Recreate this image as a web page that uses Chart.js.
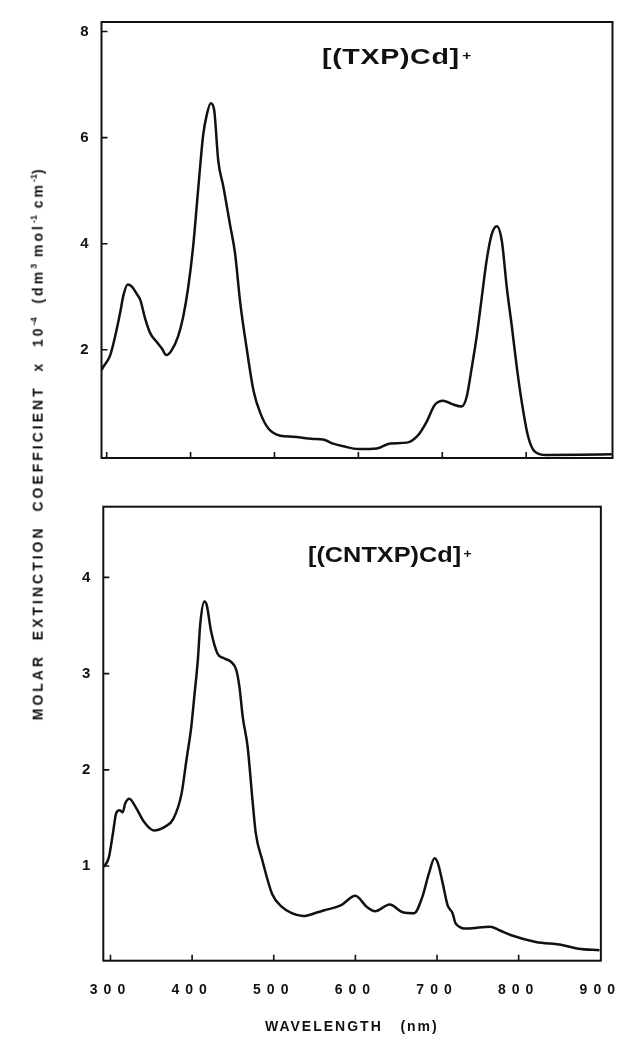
<!DOCTYPE html>
<html>
<head>
<meta charset="utf-8">
<script src="https://cdn.jsdelivr.net/npm/chart.js@4.4.1/dist/chart.umd.min.js"></script>
<style>
  body { margin: 0; background: #fff; }
  #page { position: relative; width: 633px; height: 1048px; overflow: hidden; font-family: "Liberation Sans", Arial, sans-serif; color: #111; }
  .panel { position: absolute; left: 0; }
  .label { position: absolute; font-weight: bold; white-space: pre; line-height: 1; }
  .cpd { font-size: 22px; transform-origin: left center; }
  .cpd .chg { font-size: 12px; vertical-align: 4px; margin-left: 2px; letter-spacing: 0; }
  #ytitle { font-size: 14px; letter-spacing: 3px; width: 660px; text-align: center; transform: rotate(-90deg); }
  #ytitle sup { font-size: 9px; letter-spacing: 0; }
  #xtitle { font-size: 14px; letter-spacing: 2px; }
</style>
</head>
<body>
<div id="page">
  <div class="panel" style="top:0"><canvas id="txp" width="633" height="480"></canvas></div>
  <div class="panel" style="top:490px"><canvas id="cntxp" width="633" height="558"></canvas></div>

  <div class="label cpd" style="left:322px; top:46px; letter-spacing:0.5px; transform:scaleX(1.3)">[(TXP)Cd]<span class="chg">+</span></div>
  <div class="label cpd" style="left:308px; top:544px; transform:scaleX(1.15)">[(CNTXP)Cd]<span class="chg">+</span></div>

  <div class="label" id="ytitle" style="left:-293px; top:436px">MOLAR  EXTINCTION  COEFFICIENT  x  10<sup>-4</sup>  (dm<sup>3</sup> mol<sup>-1</sup> cm<sup>-1</sup>)</div>
  <div class="label" id="xtitle" style="left:265px; top:1019px">WAVELENGTH   (nm)</div>
</div>

<script>
// SPECTRUM DATA  (wavelength in nm, molar extinction coefficient x 10^-4)

const txpWavelength = [294, 296, 304, 310, 316, 320, 325, 330, 336, 340, 346, 352, 360, 366, 371, 377, 385, 391, 397, 403,
  409, 415, 419, 424, 428, 433, 439, 447, 453, 459, 467, 475, 483, 493, 507, 522, 546, 558, 570, 582,
  600, 622, 638, 658, 671, 681, 691, 701, 711, 723, 729, 735, 741, 747, 753, 759, 765, 771, 777, 783,
  789, 795, 802, 810, 824, 864, 902];
const txpAbsorbance = [1.62, 1.68, 1.89, 2.25, 2.70, 3.03, 3.23, 3.19, 3.05, 2.94, 2.58, 2.31, 2.14, 2.02, 1.90, 1.98, 2.25, 2.61, 3.16, 3.94,
  5.02, 6.05, 6.41, 6.65, 6.53, 5.56, 5.08, 4.36, 3.82, 2.91, 2.01, 1.23, 0.81, 0.51, 0.38, 0.36, 0.32, 0.31, 0.23, 0.18,
  0.13, 0.14, 0.235, 0.25, 0.385, 0.63, 0.96, 1.04, 0.98, 0.93, 1.11, 1.65, 2.25, 2.98, 3.70, 4.18, 4.33, 4.05, 3.16, 2.43,
  1.65, 0.99, 0.385, 0.085, 0.015, 0.02, 0.03];

const cntxpWavelength = [292, 298, 303, 307, 311, 315, 318, 323, 331, 341, 353, 367, 377, 387, 393, 399, 403, 407, 410, 415,
  418, 423, 431, 439, 448, 454, 458, 462, 468, 474, 478, 486, 498, 510, 522, 536, 554, 562, 582, 600,
  614, 624, 642, 658, 672, 682, 690, 697, 701, 707, 713, 719, 723, 737, 765, 777, 791, 821, 853, 873, 899];
const cntxpAbsorbance = [0.99, 1.09, 1.34, 1.55, 1.58, 1.56, 1.65, 1.70, 1.61, 1.46, 1.37, 1.41, 1.49, 1.75, 2.10, 2.45, 2.79, 3.14, 3.52, 3.75,
  3.71, 3.45, 3.21, 3.16, 3.12, 3.04, 2.86, 2.55, 2.24, 1.68, 1.34, 1.06, 0.71, 0.575, 0.51, 0.48, 0.52, 0.54, 0.59, 0.69,
  0.575, 0.53, 0.60, 0.52, 0.51, 0.68, 0.92, 1.08, 1.03, 0.82, 0.59, 0.51, 0.40, 0.35, 0.37, 0.33, 0.28, 0.21, 0.18, 0.14, 0.125];

// tick values
const wavelengthTicks = [300, 400, 500, 600, 700, 800, 900];
const wavelengthMarks = [300, 400, 500, 600, 700, 800];
const txpTicks = [2, 4, 6, 8];
const cntxpTicks = [1, 2, 3, 4];

const INK = '#111';
const tickFont = { family: '"Liberation Sans", Arial, sans-serif', weight: 'bold', size: 15 };

// box around the plot area + short inward tick marks
const frameTicks = {
  id: 'frameTicks',
  afterDatasetsDraw(chart, args, opts) {
    const { ctx, chartArea: a, scales } = chart;
    ctx.save();
    ctx.strokeStyle = INK;
    ctx.lineWidth = 2;
    ctx.strokeRect(a.left, a.top, a.right - a.left, a.bottom - a.top);
    ctx.lineWidth = 1.6;
    ctx.beginPath();
    opts.xMarks.forEach(v => {
      const x = scales.x.getPixelForValue(v);
      ctx.moveTo(x, a.bottom);
      ctx.lineTo(x, a.bottom - 6);
    });
    opts.yMarks.forEach(v => {
      const y = scales.y.getPixelForValue(v);
      ctx.moveTo(a.left, y);
      ctx.lineTo(a.left + 6, y);
    });
    ctx.stroke();
    ctx.restore();
  }
};

// spaced-out digits on the wavelength axis
const spacedText = {
  id: 'spacedText',
  beforeDraw(chart, args, opts) { chart.ctx.letterSpacing = opts.spacing || '0px'; },
  afterDraw(chart) { chart.ctx.letterSpacing = '0px'; }
};

function makeSpectrum(id, cfg) {
  const points = cfg.wl.map((x, i) => ({ x, y: cfg.abs[i] }));
  return new Chart(document.getElementById(id), {
    type: 'line',
    data: {
      datasets: [{
        data: points,
        borderColor: INK,
        borderWidth: 2.5,
        pointRadius: 0,
        fill: false,
        cubicInterpolationMode: 'monotone'
      }]
    },
    options: {
      responsive: false,
      animation: false,
      devicePixelRatio: 1,
      layout: { padding: { top: cfg.padTop, right: cfg.padRight, left: 0, bottom: 0 } },
      plugins: {
        legend: { display: false },
        tooltip: { enabled: false },
        frameTicks: { xMarks: wavelengthMarks, yMarks: cfg.yTicks },
        spacedText: { spacing: cfg.spacing }
      },
      scales: {
        x: {
          type: 'linear',
          min: cfg.xMin,
          max: cfg.xMax,
          grid: { display: false, drawTicks: false },
          border: { display: false },
          afterBuildTicks: s => { s.ticks = wavelengthTicks.map(v => ({ value: v })); },
          afterFit: s => { s.height = cfg.xHeight; },
          ticks: { display: cfg.xLabels, font: { ...tickFont, size: 14 }, color: INK, padding: 21, maxRotation: 0, autoSkip: false }
        },
        y: {
          type: 'linear',
          min: cfg.yMin,
          max: cfg.yMax,
          grid: { display: false, drawTicks: false },
          border: { display: false },
          afterBuildTicks: s => { s.ticks = cfg.yTicks.map(v => ({ value: v })); },
          afterFit: s => { s.width = cfg.yWidth; },
          ticks: { font: tickFont, color: INK, padding: cfg.yPad, autoSkip: false }
        }
      }
    },
    plugins: [frameTicks, spacedText]
  });
}

// CHARTS

makeSpectrum('txp', {
  wl: txpWavelength, abs: txpAbsorbance, yTicks: txpTicks,
  xMin: 293.8, xMax: 902.9, yMin: -0.04, yMax: 8.18,
  padTop: 15, padRight: 20.5, yWidth: 101.5, xHeight: 10,
  xLabels: false, yPad: 13, spacing: '0px'
});

makeSpectrum('cntxp', {
  wl: cntxpWavelength, abs: cntxpAbsorbance, yTicks: cntxpTicks,
  xMin: 291.2, xMax: 900.7, yMin: 0.016, yMax: 4.735,
  padTop: 16.7, padRight: 19.7, yWidth: 103.3, xHeight: 87.3,
  xLabels: true, yPad: 7, spacing: '6px'
});
</script>
</body>
</html>
